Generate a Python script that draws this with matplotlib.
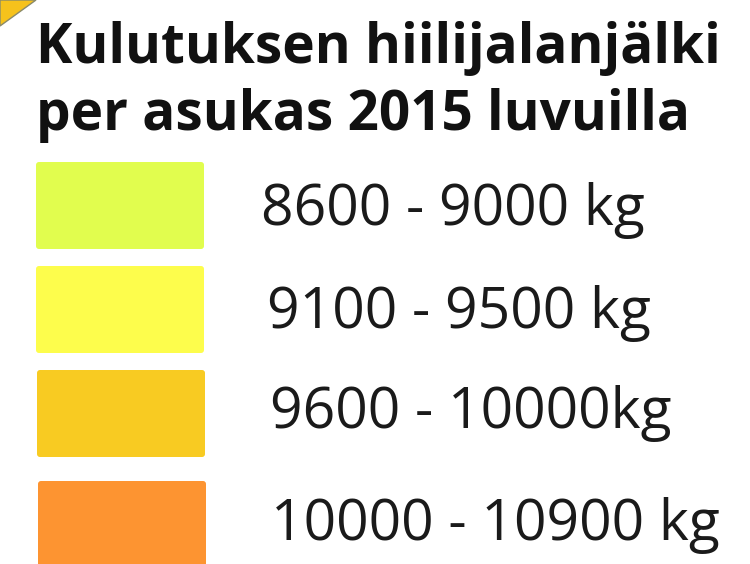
import matplotlib.pyplot as plt
from matplotlib.patches import FancyBboxPatch, Polygon

# LEGEND CONTENT
title_lines = ["Kulutuksen hiilijalanjälki", "per asukas 2015 luvuilla"]
class_labels = ["8600 - 9000 kg", "9100 - 9500 kg", "9600 - 10000kg", "10000 - 10900 kg"]
class_colors = ["#e1fd4e", "#fdfd4c", "#f8cb22", "#fd9431"]

# LAYOUT (pixels)
box_top = [162, 266, 370, 481]
box_left = [36, 36, 37, 38]
text_left = [261, 267, 270, 271]
text_base = [225, 328, 428, 540]
title_base = [63, 130]
box_w, box_h = 168, 87

plt.rcParams['font.family'] = ['Open Sans', 'DejaVu Sans']

fig = plt.figure(figsize=(7.5, 5.64), dpi=100)
ax = fig.add_axes([0, 0, 1, 1])
ax.set_xlim(0, 750)
ax.set_ylim(564, 0)
ax.axis('off')

# corner of the map frame peeking in at top left
ax.add_patch(Polygon([(0, 0), (36, 0), (0, 26)], closed=True,
                     facecolor="#f6c21c", edgecolor="#8a8a6a", linewidth=1))

for line, yb in zip(title_lines, title_base):
    ax.text(36, yb, line, fontsize=39.5, fontweight='bold', va='baseline', ha='left', color='#111111')

for i, (lab, col) in enumerate(zip(class_labels, class_colors)):
    ax.add_patch(FancyBboxPatch((box_left[i], box_top[i]), box_w, box_h,
                                boxstyle="round,pad=0,rounding_size=3",
                                facecolor=col, edgecolor='none'))
    ax.text(text_left[i], text_base[i], lab, fontsize=41,
            va='baseline', ha='left', color='#1a1a1a')

fig.savefig('out.png', dpi=100)
